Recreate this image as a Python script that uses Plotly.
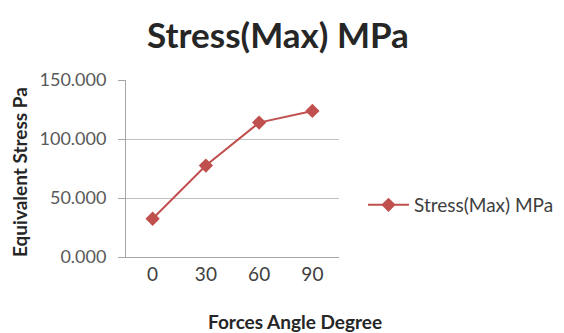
import plotly.graph_objects as go

angles = ["0", "30", "60", "90"]
stress = [32.4, 77.5, 113.9, 123.8]
series_name = "Stress(Max) MPa"
y_ticks = [0, 50, 100, 150]

W, H = 564, 333
L, R, T, B = 126, 339, 80, 257

fig = go.Figure()
fig.add_trace(go.Scatter(
    x=angles, y=stress, mode="lines+markers", name=series_name,
    line=dict(color="#C0504D", width=2),
    marker=dict(symbol="diamond", size=11, color="#C0504D"),
))

font = "Lato, 'Open Sans', sans-serif"
fig.update_layout(
    width=W, height=H,
    margin=dict(l=L, r=W - R, t=T, b=H - B, autoexpand=False),
    paper_bgcolor="white", plot_bgcolor="white",
    font=dict(family=font, color="#595959"),
    title=dict(text="<b>Stress(Max) MPa</b>", x=278 / W, xanchor="center",
               y=1 - 36 / H, yanchor="middle",
               font=dict(size=35, color="#262626", family=font)),
    showlegend=True,
    legend=dict(x=(363 - L) / (R - L), y=1 - (205 - T) / (B - T), yanchor="middle",
                xanchor="left", itemwidth=41,
                font=dict(size=19, color="#404040", family=font),
                bgcolor="rgba(0,0,0,0)"),
    xaxis=dict(type="category", range=[-0.5, 3.5], showgrid=False,
               showline=True, linecolor="#A6A6A6", linewidth=1,
               ticks="", tickfont=dict(size=19, color="#404040"),
               fixedrange=True),
    yaxis=dict(range=[0, 150], tickvals=y_ticks, tickformat=".3f",
               showgrid=True, gridcolor="#BFBFBF", gridwidth=1,
               showline=True, linecolor="#A6A6A6", linewidth=1,
               ticks="outside", ticklen=7, tickcolor="#A6A6A6",
               ticklabelstandoff=8,
               tickfont=dict(size=18, color="#595959"), zeroline=False,
               fixedrange=True),
)
fig.add_annotation(text="<b>Equivalent Stress Pa</b>", textangle=-90,
                   xref="paper", yref="paper",
                   x=(19 - L) / (R - L), y=1 - (172 - T) / (B - T),
                   xanchor="center", yanchor="middle", showarrow=False,
                   font=dict(size=19, color="#262626", family=font))
fig.add_annotation(text="<b>Forces Angle Degree</b>",
                   xref="paper", yref="paper",
                   x=(295 - L) / (R - L), y=1 - (321 - T) / (B - T),
                   xanchor="center", yanchor="middle", showarrow=False,
                   font=dict(size=19, color="#262626", family=font))

fig.write_html("out.html", config={"displayModeBar": False},
               post_script="document.body.style.margin='0';")
